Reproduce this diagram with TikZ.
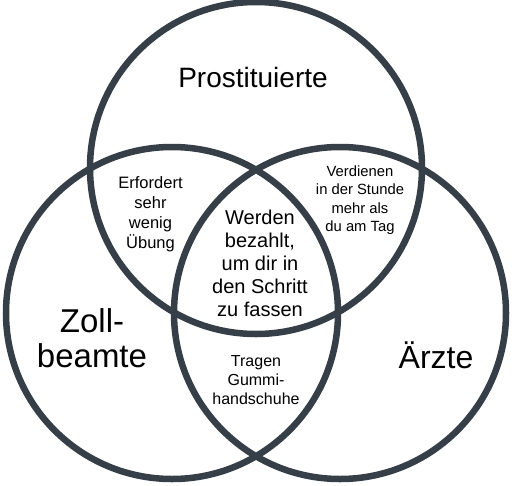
\documentclass[tikz,border=0pt]{standalone}
\usepackage{fontspec}
\setmainfont{Liberation Sans}
\definecolor{vennline}{RGB}{54,63,72}
\newcommand{\venntext}[3]{{\fontsize{#1}{#2}\selectfont\setlength{\tabcolsep}{0pt}\renewcommand{\arraystretch}{1}\begin{tabular}[t]{c}#3\end{tabular}}}
\begin{document}
\begin{tikzpicture}[x=1pt,y=-1pt,
  vcircle/.style={circle, draw=vennline, line width=6.5pt, inner sep=0pt, minimum size=332pt},
  lbl/.style={anchor=base, inner sep=0pt, outer sep=0pt, text=black}]
\fill[white] (0,0) rectangle (514,485);
\useasboundingbox (0,0) rectangle (514,485);
\node[vcircle] (prost) at (256,168) {};
\node[vcircle] (zoll) at (172,313) {};
\node[vcircle] (arzt) at (340,313) {};
\node[lbl] (tprost) at (253,87) {\venntext{28}{32}{Prostituierte}};
\node[lbl] (tzoll) at (92,332) {\venntext{33}{35}{Zoll-\\beamte}};
\node[lbl] (tarzt) at (436,368) {\venntext{32}{36}{Ärzte}};
\node[lbl] (tall) at (260,224) {\venntext{20}{23}{Werden\\bezahlt,\\um dir in\\den Schritt\\zu fassen}};
\node[lbl] (tpz) at (150.5,188) {\venntext{16.5}{20}{Erfordert\\sehr\\wenig\\Übung}};
\node[lbl] (tpa) at (360,176) {\venntext{14.8}{18.5}{Verdienen\\in der Stunde\\mehr als\\du am Tag}};
\node[lbl] (tza) at (256,366) {\venntext{16}{19}{Tragen\\Gummi-\\handschuhe}};
\end{tikzpicture}
\end{document}
